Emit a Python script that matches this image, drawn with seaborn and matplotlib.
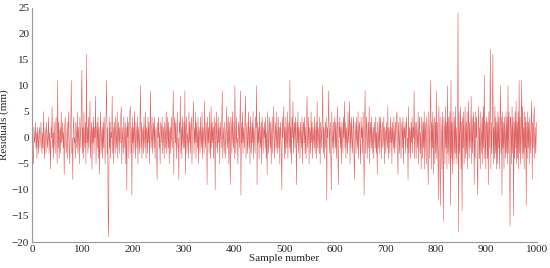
import numpy as np
import pandas as pd
import seaborn as sns
import matplotlib.pyplot as plt

# residuals, 20 samples per row
residuals = [
    1, -3, -5, 2, -1, 0, 3, -2, 1, -4, 2, 0, -3, 1, 2, -2, 0, 3, -1, -3,
    1, -2, 5, -1, -4, 2, 0, -3, 3, 1, -2, 0, 4, -3, 1, -1, -6, 2, 0, 6,
    -2, 1, -4, 3, 0, -3, 2, 4, -1, -5, 11, -2, 3, -4, 1, 2, -3, 5, -1, 0,
    3, -2, 1, -7, 2, 4, -1, -3, 0, 3, -4, 2, 5, -2, -5, 1, 3, 11, -3, 0,
    -8, 2, 4, -1, 0, -4, 3, 1, -2, 5, -3, 2, 0, -5, 4, 1, -2, 7, 13, -3,
    2, -4, 5, 0, -2, 3, -5, 16, -1, 2, -3, 4, -2, 1, 7, -4, 0, 3, -6, 2,
    -1, 4, -3, 2, 0, 8, -5, 1, 3, -2, 4, -4, 2, -7, 1, 5, -3, 0, 2, -4,
    3, -2, 4, 0, -5, 2, 5, 11, -3, 2, -15, -19, 4, -2, 3, -4, 1, 0, 8, -3,
    2, -5, 3, 1, -3, 4, 0, -2, 5, -4, 1, 3, -3, 2, -1, 4, 6, -5, 2, 0,
    -3, 4, 1, -2, 3, -5, 2, -10, 4, 0, 3, -4, 1, 5, 6, -3, 2, -11, 4, -1,
    2, -3, 5, 0, -4, 3, 1, -2, 4, -5, 2, 0, -3, 4, 10, -2, 3, -4, 1, 2,
    -3, 4, 0, -2, 5, -4, 2, 1, -3, 4, -1, 3, -5, 2, 9, -2, 0, 4, -3, 1,
    3, -2, 4, -4, 1, 2, -3, -8, 3, 0, 4, -2, 1, -5, 3, 2, -1, 4, -3, 0,
    2, -4, 3, 1, -2, 5, -3, 0, 4, -2, 3, -5, 1, 2, -3, 4, 0, -2, 3, 9,
    -7, 2, 4, -1, 3, -4, 1, 5, -2, 0, -8, 3, 1, 8, -3, 2, -4, 4, 0, -2,
    3, -2, 9, -7, 2, 4, -3, 1, 0, -4, 5, -1, 3, -3, 2, 4, -5, 1, 3, 7,
    -3, 2, -1, 5, -4, 3, 0, -2, 4, -5, 2, 1, -3, 4, 0, -2, 5, -4, 2, 1,
    -3, 7, 0, -2, 3, 1, -9, 4, -1, 2, -3, 5, 0, -4, 6, -2, 3, -1, 2, -4,
    4, 1, -10, 3, -2, 5, 0, -3, 4, -1, 2, -5, 3, 1, -2, 4, 9, -4, 2, 0,
    -3, 3, 1, -4, 2, 6, -2, 0, 4, -5, 3, -1, -9, 4, 2, -3, 5, 0, -2, 3,
    -4, 10, 2, -3, 4, -1, 0, -5, 3, 2, -2, 4, 9, -11, 3, -1, 5, -3, 2, 0,
    -2, 4, 8, -4, 1, 3, -3, 0, 5, -2, 2, -5, 4, 1, -3, 3, -1, 5, -4, 2,
    0, -3, 4, 2, 10, -9, 3, -1, 2, -4, 5, 0, -2, 3, -5, 4, 1, -3, 2, 0,
    3, -2, 4, -4, 1, -7, 5, 0, -3, 4, 2, -2, 3, -5, 1, 4, -3, 2, 6, -1,
    -4, 3, 1, -2, 5, -3, 0, 4, -2, 2, -5, 3, 1, -3, -10, 4, 0, 2, 6, -4,
    2, -3, 4, 0, -2, 5, -4, 1, 3, -2, 11, -3, 2, -5, 4, 0, 7, -3, 1, 3,
    -2, 4, 0, -9, 3, -1, 5, -3, 2, 1, -4, 3, 0, -2, 4, -5, 2, 3, -1, 4,
    -3, 2, -4, 3, 8, -2, 0, 4, -5, 2, 1, -3, 5, -1, 3, -4, 2, 0, -2, 4,
    -3, 1, 3, -4, 7, -2, 2, 0, -3, 4, -5, 3, 1, -2, 4, 10, -3, 2, -4, 1,
    3, -2, 4, -12, 2, 0, 4, 9, -3, 1, 3, -4, -10, 5, 0, -2, 3, -3, 2, 4,
    -2, 3, -4, 1, 6, -3, -9, 3, 0, 4, -2, 2, -5, 3, 1, -3, 4, 0, 7, -2,
    3, -4, 2, 0, -3, 5, -1, 2, 7, -5, 3, -2, 4, 0, -3, 2, 4, -4, -8, 3,
    1, -3, 4, 0, -2, 5, -4, 2, 3, -1, -5, 4, 0, 2, -3, 5, -2, -11, 3, 9,
    -3, 2, 4, -4, 0, 3, -2, 6, -5, 1, 3, -2, 4, -3, 0, 2, -4, 3, 1, -2,
    4, -3, 1, -7, 3, 0, -2, 4, -3, 4, 2, -4, 1, 3, -2, 0, 4, -5, 2, 1,
    -3, 3, 0, -2, 6, -4, 2, 1, -3, 4, -1, 2, -5, 3, 0, -2, 4, -3, 1, 3,
    -2, 4, 5, -1, -7, 3, 0, -3, 4, 2, -4, 1, 3, -2, 4, -5, 2, 0, 3, -3,
    2, 4, -2, 0, -8, 6, -3, 2, 1, -4, 3, -1, 4, -3, 2, 0, 9, -4, 3, 1,
    -4, 3, 0, -2, 5, -5, 2, 4, -3, 1, -6, 4, 2, -4, 3, -2, 5, -6, 3, 1,
    -5, 4, 2, -3, -9, 5, 0, -4, 6, 11, -6, 3, -2, 5, -7, 2, 4, -5, 3, -3,
    9, -4, 3, -2, -12, 6, 2, -5, -13, 4, 1, -6, 5, -3, -16, 4, 2, -5, 6, -2,
    3, -6, 10, -3, 4, -5, 2, 5, -13, 11, -4, 3, -7, 5, 0, -5, 4, -3, 6, -4,
    2, -5, 4, 24, -18, 5, -3, 2, 6, -6, 3, -14, 4, -2, 5, -5, 1, 6, -4, 3,
    -3, 5, -6, 2, 7, -4, 3, -2, 1, 8, -5, 4, -3, 2, 5, -9, 3, -4, 5, 0,
    4, -5, -11, 3, 6, -4, 2, -6, 5, 1, -3, 4, -5, 6, -2, 12, -4, 3, -6, 2,
    4, -4, 3, -9, 5, -2, 4, 17, -6, 3, -3, 5, 16, -5, 2, -4, 6, -3, 4, -6,
    3, -5, 5, -2, 4, -6, 2, 10, -3, 4, -11, 5, -2, 3, -6, 4, 0, -4, 5, -3,
    4, -5, 10, -3, 5, -6, -17, 4, 2, -5, 6, -3, 4, -15, 3, -4, 5, -2, 7, -5,
    3, -4, 5, -6, 11, -3, 4, -5, 2, 11, -4, 6, -3, 2, -6, 5, -2, 4, -13, 3,
    -4, 5, -2, 3, -5, 4, 0, -3, 4, 7, -8, 3, -2, 4, 6, -4, 2, -3, 1, 3,
]
sample = list(range(1, len(residuals) + 1))
xticks = list(range(0, 1001, 100))
yticks = list(range(-20, 26, 5))

df = pd.DataFrame({"Sample number": sample, "Residuals (mm)": residuals})

sns.set_style("white")
plt.rcParams['font.family'] = ['Liberation Serif', 'DejaVu Serif']
plt.rcParams['font.size'] = 8

fig = plt.figure(figsize=(5.5, 2.68), dpi=100)
ax = fig.add_axes([0.058, 0.097, 0.918, 0.875])
sns.lineplot(data=df, x="Sample number", y="Residuals (mm)", estimator=None,
             color='#e06060', linewidth=0.4, ax=ax)
ax.set_xlim(0, 1000)
ax.set_ylim(-20, 25)
ax.set_xticks(xticks)
ax.set_yticks(yticks)
ax.tick_params(direction='in', length=3, width=0.6, color='#999999', pad=2, labelsize=8)
ax.set_xlabel('Sample number', fontsize=8, labelpad=0)
ax.set_ylabel('Residuals (mm)', fontsize=8, labelpad=2)
sns.despine(ax=ax)
for side in ['left', 'bottom']:
    ax.spines[side].set_color('#999999')
    ax.spines[side].set_linewidth(0.8)

plt.savefig('out.png', dpi=100)
